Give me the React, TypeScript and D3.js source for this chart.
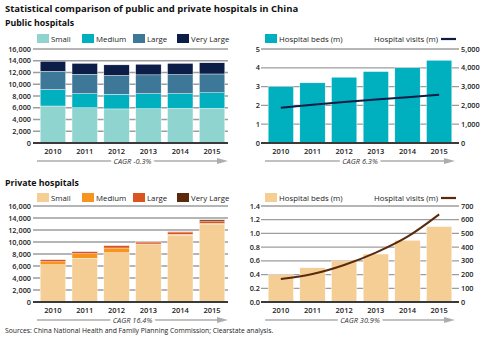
import React from 'react';
import * as d3 from 'd3';

const years = ['2010', '2011', '2012', '2013', '2014', '2015'];
const sizeLabels = ['Small', 'Medium', 'Large', 'Very Large'];

const pubSmall = [6300, 6000, 5800, 5850, 5900, 5900];
const pubMedium = [2800, 2400, 2500, 2550, 2500, 2650];
const pubLarge = [3100, 3300, 3200, 3200, 3250, 3200];
const pubVeryLarge = [1700, 1850, 1800, 1800, 1900, 1900];
const pubBeds = [3.0, 3.2, 3.5, 3.8, 4.0, 4.4];
const pubVisits = [1880, 2030, 2180, 2310, 2440, 2560];

const privSmall = [6200, 7300, 8200, 9550, 11150, 13000];
const privMedium = [500, 750, 800, 120, 130, 100];
const privLarge = [350, 350, 400, 330, 390, 400];
const privVeryLarge = [20, 20, 20, 20, 30, 200];
const privBeds = [0.4, 0.5, 0.6, 0.7, 0.9, 1.1];
const privVisits = [168, 204, 270, 360, 476, 639];

const countTicks = [0, 2000, 4000, 6000, 8000, 10000, 12000, 14000, 16000];
const pubBedsTicks = [0, 1, 2, 3, 4, 5];
const pubVisitsTicks = [0, 1000, 2000, 3000, 4000, 5000];
const privBedsTicks = [0, 0.2, 0.4, 0.6, 0.8, 1.0, 1.2, 1.4];
const privVisitsTicks = [0, 100, 200, 300, 400, 500, 600, 700];

const pubColors = ['#8fd4cf', '#00b0bf', '#3e7898', '#0c1d48'];
const privColors = ['#f5ce96', '#f7941e', '#d9541f', '#5b2a0d'];
const pubBedColor = '#00b0bf';
const pubLineColor = '#0c1d48';
const privBedColor = '#f5ce96';
const privLineColor = '#5b2a0d';

const FONT = "'Open Sans', Lato, sans-serif";
const GRID = '#9d9d9d';
const AXIS = '#3a3a3a';
const TEXT = '#222';

function Cagr({ x0, x1, y, label }: { x0: number; x1: number; y: number; label: string }) {
  const cx = (x0 + x1) / 2;
  return (
    <g>
      <line x1={x0} x2={x1 - 8} y1={y} y2={y} stroke="#adadad" strokeWidth={1.6} />
      <path d={`M${x1 - 11},${y - 3} L${x1},${y} L${x1 - 11},${y + 3} Z`} fill="#adadad" />
      <text x={cx} y={y + 2.6} textAnchor="middle" fontSize={7.4} fontStyle="italic" fill="#333"
        stroke="#fff" strokeWidth={6} paintOrder="stroke" fontFamily={FONT}>{label}</text>
    </g>
  );
}

function StackedPanel({ x0, x1, yTop, yBot, series, colors, legendY, cagr }: any) {
  const x = d3.scaleBand<string>().domain(years).range([x0, x1]).paddingInner(0.2).paddingOuter(0.1);
  const y = d3.scaleLinear().domain([0, 16000]).range([yBot, yTop]);
  const rows = years.map((yr, i) => {
    const o: any = { year: yr };
    sizeLabels.forEach((k, j) => (o[k] = series[j][i]));
    return o;
  });
  const stack = d3.stack<any>().keys(sizeLabels)(rows);
  const fmt = d3.format(',');
  const legendX = [x0, x0 + 45, x0 + 96, x0 + 140];
  return (
    <g>
      {sizeLabels.map((k, j) => (
        <g key={k}>
          <rect x={legendX[j]} y={legendY} width={12} height={9} fill={colors[j]} />
          <text x={legendX[j] + 14} y={legendY + 8} fontSize={7.8} fill={TEXT} fontFamily={FONT}>{k}</text>
        </g>
      ))}
      {countTicks.map((t) => (
        <g key={t}>
          <line x1={x0 - 4} x2={x1} y1={y(t)} y2={y(t)} stroke={GRID} strokeWidth={1.3} />
          <text x={x0 - 6} y={y(t)} dy="0.35em" textAnchor="end" fontSize={7.3} fontWeight={600} fill={TEXT} fontFamily={FONT}>{fmt(t)}</text>
        </g>
      ))}
      {stack.map((s, j) => (
        <g key={j}>
          {s.map((d, i) => (
            <rect key={i} x={x(years[i])} width={x.bandwidth()} y={y(d[1])} height={Math.max(0, y(d[0]) - y(d[1]))}
              fill={colors[j]} stroke="#fff" strokeWidth={0.4} />
          ))}
        </g>
      ))}
      <line x1={x0 - 4} x2={x1} y1={yBot} y2={yBot} stroke={AXIS} strokeWidth={2} />
      {years.map((yr) => (
        <text key={yr} x={(x(yr) as number) + x.bandwidth() / 2} y={yBot + 10.5} textAnchor="middle" fontSize={7.5} fontWeight={600} fill={TEXT} fontFamily={FONT}>{yr}</text>
      ))}
      <Cagr x0={x0} x1={x1} y={yBot + 18} label={cagr} />
    </g>
  );
}

function ComboPanel({ x0, x1, yTop, yBot, beds, visits, bedMax, visitMax, bedTicks, visitTicks, bedFmt, visitFmt, barColor, lineColor, legendY, cagr, curve }: any) {
  const x = d3.scaleBand<string>().domain(years).range([x0, x1]).paddingInner(0.2).paddingOuter(0.1);
  const yL = d3.scaleLinear().domain([0, bedMax]).range([yBot, yTop]);
  const yR = d3.scaleLinear().domain([0, visitMax]).range([yBot, yTop]);
  const line = d3.line<number>()
    .x((_, i) => (x(years[i]) as number) + x.bandwidth() / 2)
    .y((d) => yR(d))
    .curve(curve);
  return (
    <g>
      <rect x={x0} y={legendY} width={12} height={9} fill={barColor} />
      <text x={x0 + 14} y={legendY + 8} fontSize={7.8} fill={TEXT} fontFamily={FONT}>Hospital beds (m)</text>
      <text x={x1 - 17} y={legendY + 8} textAnchor="end" fontSize={7.8} fill={TEXT} fontFamily={FONT}>Hospital visits (m)</text>
      <line x1={x1 - 14} x2={x1 + 1} y1={legendY + 5} y2={legendY + 5} stroke={lineColor} strokeWidth={2.2} />
      {bedTicks.map((t: number) => (
        <g key={'l' + t}>
          <line x1={x0 - 4} x2={x1 + 4} y1={yL(t)} y2={yL(t)} stroke={GRID} strokeWidth={1.3} />
          <text x={x0 - 5} y={yL(t)} dy="0.35em" textAnchor="end" fontSize={7.3} fontWeight={600} fill={TEXT} fontFamily={FONT}>{bedFmt(t)}</text>
        </g>
      ))}
      {visitTicks.map((t: number) => (
        <text key={'r' + t} x={x1 + 6} y={yR(t)} dy="0.35em" textAnchor="start" fontSize={7.3} fontWeight={600} fill={TEXT} fontFamily={FONT}>{visitFmt(t)}</text>
      ))}
      {beds.map((b: number, i: number) => (
        <rect key={i} x={x(years[i])} width={x.bandwidth()} y={yL(b)} height={yBot - yL(b)} fill={barColor} stroke="#fff" strokeWidth={0.4} />
      ))}
      <line x1={x0 - 4} x2={x1 + 4} y1={yBot} y2={yBot} stroke={AXIS} strokeWidth={2} />
      <path d={line(visits) as string} fill="none" stroke={lineColor} strokeWidth={2} />
      {years.map((yr) => (
        <text key={yr} x={(x(yr) as number) + x.bandwidth() / 2} y={yBot + 10.5} textAnchor="middle" fontSize={7.5} fontWeight={600} fill={TEXT} fontFamily={FONT}>{yr}</text>
      ))}
      <Cagr x0={x0} x1={x1} y={yBot + 18} label={cagr} />
    </g>
  );
}

export default function App() {
  const fmtComma = d3.format(',');
  const fmtInt = d3.format('d');
  const fmt1 = d3.format('.1f');
  return (
    <svg width={500} height={345} style={{ position: 'absolute', left: 0, top: 0, background: '#fff' }} fontFamily={FONT}>
      <rect width={500} height={345} fill="#fff" />
      <text x={5} y={12} fontSize={9.5} fontWeight={700} fill="#111" fontFamily={FONT}>Statistical comparison of public and private hospitals in China</text>
      <text x={5} y={26} fontSize={8.8} fontWeight={700} fill="#111" fontFamily={FONT}>Public hospitals</text>
      <StackedPanel x0={37} x1={228} yTop={49} yBot={143}
        series={[pubSmall, pubMedium, pubLarge, pubVeryLarge]} colors={pubColors} legendY={34} cagr="CAGR -0.3%" />
      <ComboPanel x0={265} x1={455} yTop={49} yBot={143} beds={pubBeds} visits={pubVisits}
        bedMax={5} visitMax={5000} bedTicks={pubBedsTicks} visitTicks={pubVisitsTicks}
        bedFmt={fmtInt} visitFmt={fmtComma} barColor={pubBedColor} lineColor={pubLineColor}
        legendY={34} cagr="CAGR 6.3%" curve={d3.curveLinear} />
      <text x={5} y={186} fontSize={8.8} fontWeight={700} fill="#111" fontFamily={FONT}>Private hospitals</text>
      <StackedPanel x0={37} x1={228} yTop={206} yBot={302}
        series={[privSmall, privMedium, privLarge, privVeryLarge]} colors={privColors} legendY={193} cagr="CAGR 16.4%" />
      <ComboPanel x0={265} x1={455} yTop={206} yBot={302} beds={privBeds} visits={privVisits}
        bedMax={1.4} visitMax={700} bedTicks={privBedsTicks} visitTicks={privVisitsTicks}
        bedFmt={fmt1} visitFmt={fmtInt} barColor={privBedColor} lineColor={privLineColor}
        legendY={193} cagr="CAGR 30.9%" curve={d3.curveMonotoneX} />
      <text x={5} y={333} fontSize={6.8} fill={TEXT} fontFamily={FONT}>Sources: China National Health and Family Planning Commission; Clearstate analysis.</text>
    </svg>
  );
}
